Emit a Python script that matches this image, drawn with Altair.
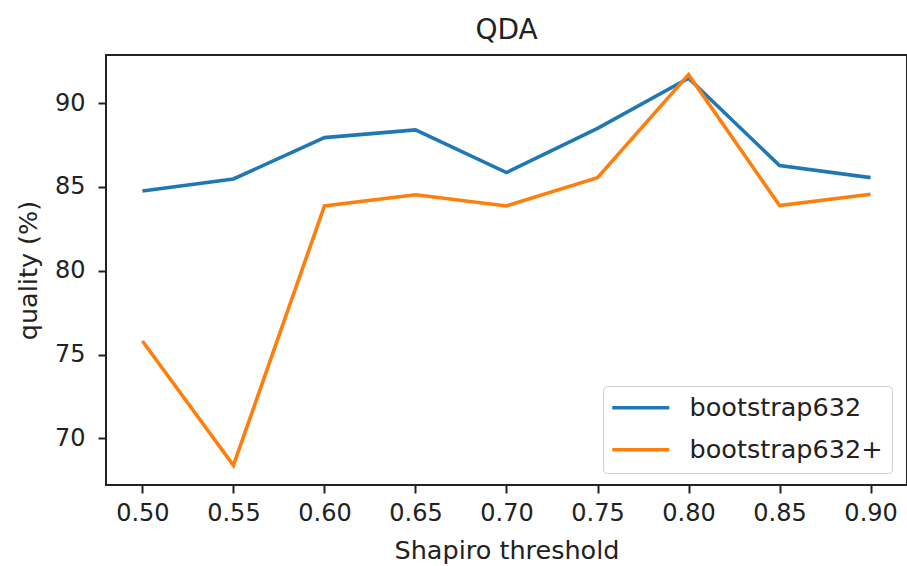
import altair as alt
import pandas as pd

# Shapiro threshold values on the x axis
thresholds = [0.50, 0.55, 0.60, 0.65, 0.70, 0.75, 0.80, 0.85, 0.90]

# QDA quality (%) for each estimator
bootstrap632 = [84.76, 85.48, 87.95, 88.41, 85.86, 88.50, 91.49, 86.28, 85.56]
bootstrap632_plus = [75.81, 68.38, 83.87, 84.54, 83.87, 85.56, 91.71, 83.89, 84.57]

series_names = ["bootstrap632", "bootstrap632+"]
series_colors = ["#1f77b4", "#ff7f0e"]

x_ticks = [0.50, 0.55, 0.60, 0.65, 0.70, 0.75, 0.80, 0.85, 0.90]
y_ticks = [70, 75, 80, 85, 90]

rows = []
for name, values in zip(series_names, [bootstrap632, bootstrap632_plus]):
    for t, v in zip(thresholds, values):
        rows.append({"threshold": t, "quality": v, "method": name})
df = pd.DataFrame(rows)

FONT = "DejaVu Sans"
INK = "#222222"

chart = (
    alt.Chart(df)
    .mark_line(strokeWidth=3.6)
    .encode(
        x=alt.X(
            "threshold:Q",
            scale=alt.Scale(domain=[0.48, 0.92], nice=False, zero=False),
            axis=alt.Axis(
                values=x_ticks,
                format=".2f",
                title="Shapiro threshold",
                titleX=400.5,
                titleY=65,
                titleAlign="center",
                titleBaseline="middle",
            ),
        ),
        y=alt.Y(
            "quality:Q",
            scale=alt.Scale(domain=[67.21, 92.88], nice=False, zero=False),
            axis=alt.Axis(
                values=y_ticks,
                title="quality (%)",
                titleX=-78,
                titleY=215,
                titleAngle=270,
                titleAlign="center",
                titleBaseline="middle",
                labelPadding=13,
            ),
        ),
        color=alt.Color(
            "method:N",
            scale=alt.Scale(domain=series_names, range=series_colors),
            legend=alt.Legend(
                title=None,
                orient="none",
                legendX=497,
                legendY=331,
                # short horizontal stroke, three times the nominal symbol size
                symbolType="M-3,0H3",
                symbolSize=361,
                symbolStrokeWidth=3.6,
                symbolFillColor="transparent",
                symbolOffset=16,
                labelFont=FONT,
                labelFontSize=25.5,
                labelColor=INK,
                labelOffset=36,
                labelLimit=0,
                rowPadding=15,
                padding=9,
                strokeColor="#d0d0d0",
                cornerRadius=4,
                fillColor="white",
            ),
        ),
    )
    .properties(
        width=801,
        height=430,
        title=alt.TitleParams(
            "QDA",
            font=FONT,
            fontSize=28,
            fontWeight="normal",
            color=INK,
            anchor="middle",
            frame="group",
            baseline="alphabetic",
            offset=16,
            dy=28,
        ),
        autosize=alt.AutoSizeParams(type="none"),
        padding={"left": 106, "top": 55, "right": 0, "bottom": 81},
    )
    .configure_view(stroke=INK, strokeWidth=2)
    .configure_axis(
        grid=False,
        domain=False,
        tickColor=INK,
        tickSize=8,
        tickWidth=2,
        labelFont=FONT,
        labelFontSize=24,
        labelColor=INK,
        titleFont=FONT,
        titleFontSize=25.5,
        titleFontWeight="normal",
        titleColor=INK,
    )
    .configure_axisX(labelPadding=8)
)

chart.save("out.html", embed_options={"renderer": "svg", "actions": False})
